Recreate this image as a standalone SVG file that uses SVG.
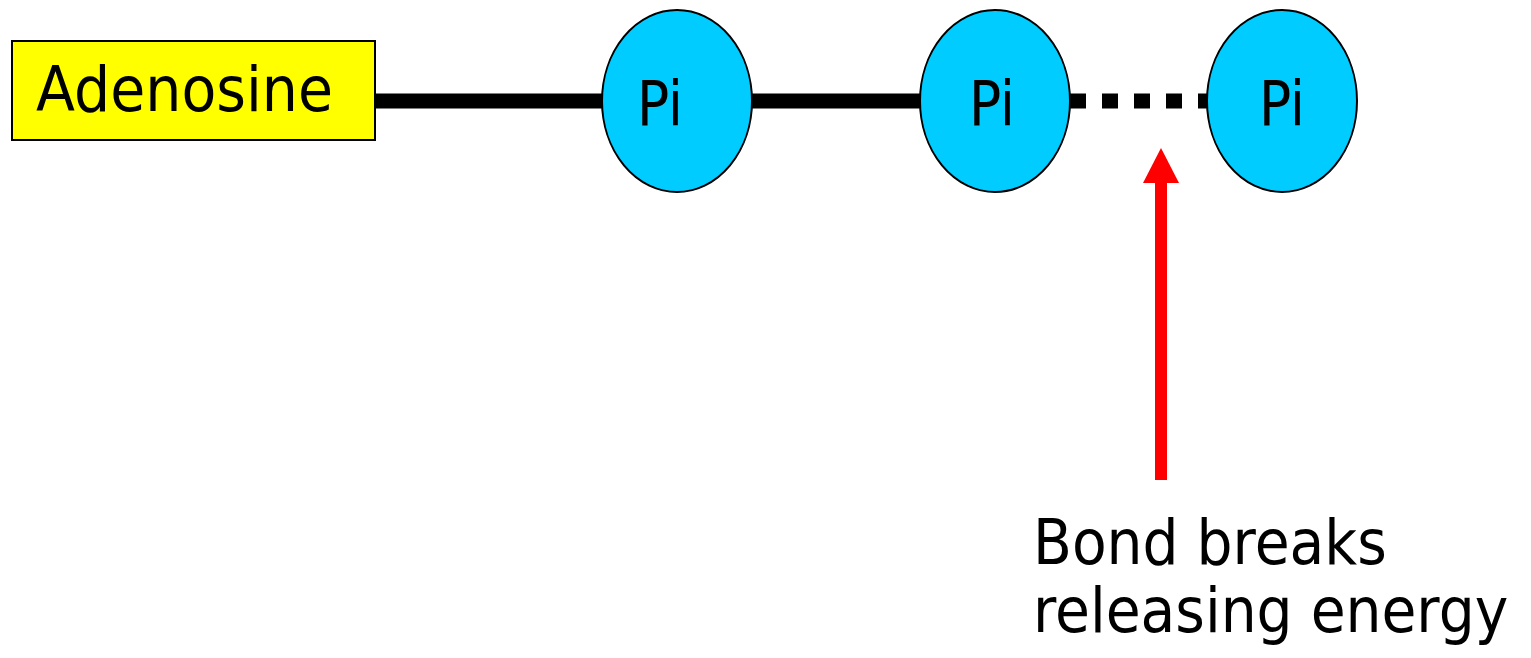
<svg xmlns="http://www.w3.org/2000/svg" width="1531" height="658" viewBox="0 0 1531 658">
  <style>
    .lbl { font-family: "DejaVu Sans", "Liberation Sans", sans-serif; fill: #000; }
    .pi { fill: #00ccff; stroke: #000; stroke-width: 2; }
    .bond { stroke: #000; stroke-width: 15; fill: none; }
  </style>
  <rect width="1531" height="658" fill="#fff"/>

  <!-- bonds -->
  <g id="connectors">
    <line class="bond" x1="374" y1="101" x2="604" y2="101"/>
    <line class="bond" x1="750" y1="101" x2="922" y2="101"/>
    <line class="bond" x1="1070" y1="101" x2="1208" y2="101" stroke-dasharray="16 16"/>
    <!-- arrow pointing to the breaking bond -->
    <g id="arrow">
      <rect x="1155" y="182" width="12" height="298" fill="#ff0000"/>
      <polygon points="1161,148 1179,183 1143,183" fill="#ff0000"/>
    </g>
  </g>

  <g id="adenosine">
    <rect x="12" y="41" width="363" height="99" fill="#ffff00" stroke="#000" stroke-width="2"/>
    <text class="lbl" x="36" y="111" font-size="62" textLength="297" lengthAdjust="spacingAndGlyphs">Adenosine</text>
  </g>

  <g id="pi1">
    <ellipse class="pi" cx="677" cy="101" rx="75" ry="91"/>
    <text class="lbl" x="637" y="125" font-size="62" textLength="46" lengthAdjust="spacingAndGlyphs">Pi</text>
  </g>
  <g id="pi2">
    <ellipse class="pi" cx="995" cy="101" rx="75" ry="91"/>
    <text class="lbl" x="969" y="125" font-size="62" textLength="46" lengthAdjust="spacingAndGlyphs">Pi</text>
  </g>
  <g id="pi3">
    <ellipse class="pi" cx="1282" cy="101" rx="75" ry="91"/>
    <text class="lbl" x="1259" y="125" font-size="62" textLength="46" lengthAdjust="spacingAndGlyphs">Pi</text>
  </g>

  <!-- caption set slightly condensed -->
  <g id="caption" transform="translate(1033,0) scale(0.915,1)">
    <text class="lbl" x="0" y="564" font-size="62">Bond breaks</text>
    <text class="lbl" x="0" y="632" font-size="62">releasing energy</text>
  </g>
</svg>
